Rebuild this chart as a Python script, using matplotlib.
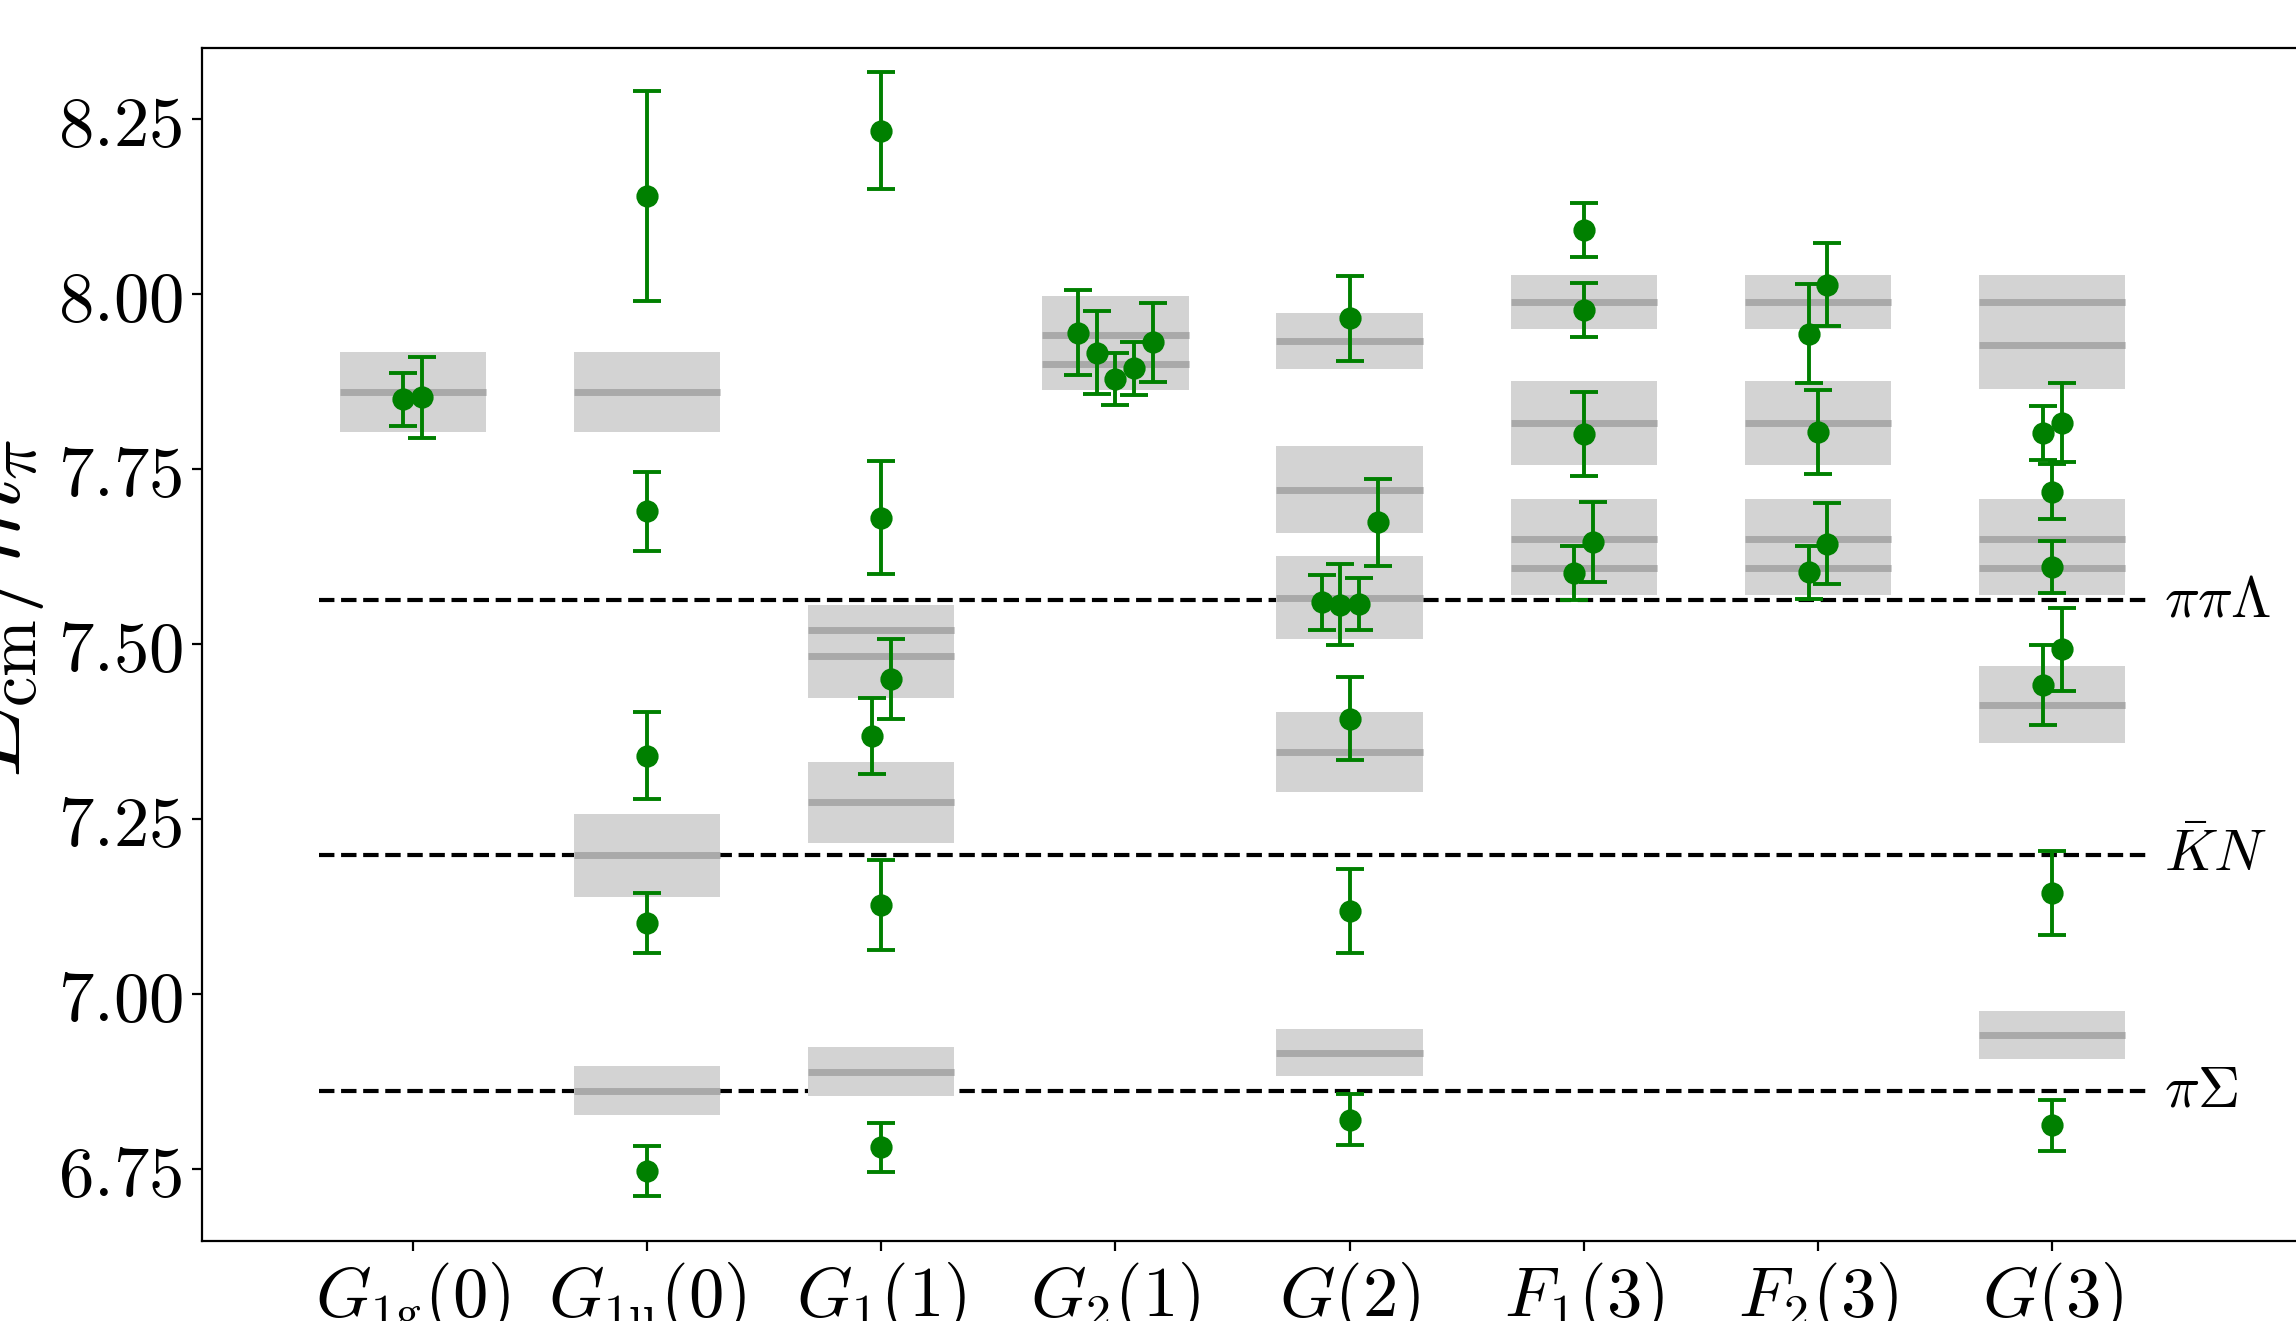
import numpy as np
import matplotlib
matplotlib.use("Agg")
import matplotlib.pyplot as plt
from matplotlib.ticker import FixedLocator, FuncFormatter

plt.rcParams["mathtext.fontset"] = "cm"
plt.rcParams["font.family"] = "serif"
plt.rcParams["font.serif"] = ["DejaVu Serif"]

# irreps along the x axis
irrep_labels = [r"$G_{1\mathrm{g}}(0)$", r"$G_{1\mathrm{u}}(0)$", r"$G_1(1)$", r"$G_2(1)$",
                r"$G(2)$", r"$F_1(3)$", r"$F_2(3)$", r"$G(3)$"]

# non-interacting levels (grey bands): centre and half-width
band_centres = [
    [7.860],
    [7.860, 7.198, 6.8615],
    [7.519, 7.483, 7.2735, 6.889],
    [7.941, 7.900],
    [7.932, 7.720, 7.566, 7.346, 6.916],
    [7.988, 7.815, 7.650, 7.608],
    [7.988, 7.815, 7.650, 7.608],
    [7.988, 7.927, 7.650, 7.608, 7.413, 6.941],
]
band_errs = [
    [0.057],
    [0.057, 0.059, 0.035],
    [0.037, 0.061, 0.0575, 0.035],
    [0.056, 0.038],
    [0.040, 0.062, 0.059, 0.057, 0.034],
    [0.039, 0.060, 0.057, 0.038],
    [0.039, 0.060, 0.057, 0.038],
    [0.039, 0.0625, 0.057, 0.038, 0.055, 0.034],
]

# lattice energies, grouped in clusters that are spread sideways
energy_vals = [
    [[7.849, 7.852]],
    [[8.139], [7.689], [7.340], [7.101], [6.747]],
    [[8.233], [7.680], [7.368, 7.450], [7.127], [6.781]],
    [[7.9445, 7.916, 7.878, 7.8935, 7.9305]],
    [[7.965], [7.559, 7.556, 7.557, 7.6735], [7.393], [7.119], [6.8205]],
    [[8.091], [7.977], [7.800], [7.601, 7.645]],
    [[7.943, 8.013], [7.802], [7.602, 7.643]],
    [[7.801, 7.816], [7.7175], [7.610], [7.441, 7.492], [7.1445], [6.812]],
]
energy_errs = [
    [[0.038, 0.058]],
    [[0.150], [0.057], [0.062], [0.043], [0.036]],
    [[0.084], [0.081], [0.054, 0.057], [0.064], [0.035]],
    [[0.061, 0.059, 0.037, 0.0375, 0.056]],
    [[0.061], [0.039, 0.058, 0.037, 0.062], [0.059], [0.060], [0.036]],
    [[0.039], [0.039], [0.060], [0.038, 0.057]],
    [[0.071, 0.059], [0.060], [0.038, 0.058]],
    [[0.038, 0.057], [0.0386], [0.037], [0.057, 0.059], [0.060], [0.036]],
]

# two-particle thresholds
thresh_vals = [7.5619, 7.198, 6.8615]
thresh_labels = [r"$\pi\pi\Lambda$", r"$\bar{K}N$", r"$\pi\Sigma$"]


def main():
    fig = plt.figure(figsize=(11.48, 6.605), dpi=200)
    ax = fig.add_axes([202 / 2296, 1 - 1241 / 1321, 2225 / 2296, 1193 / 1321])

    half = 0.3125
    step = 0.08

    for i in range(len(irrep_labels)):
        for c, e in zip(band_centres[i], band_errs[i]):
            ax.fill_between([i - half, i + half], c - e, c + e,
                            color="lightgray", lw=0, zorder=3)
            ax.hlines(c, i - half, i + half, color="darkgray", lw=2.5, zorder=3.1)

        xs, ys, es = [], [], []
        for vals, errs in zip(energy_vals[i], energy_errs[i]):
            k = len(vals)
            for j in range(k):
                xs.append(i + (j - (k - 1) / 2) * step)
                ys.append(vals[j])
                es.append(errs[j])
        ax.errorbar(xs, ys, yerr=es, fmt="o", color="green", ms=7,
                    capsize=5, elinewidth=1.4, capthick=1.4, zorder=4)

    for v, lab in zip(thresh_vals, thresh_labels):
        ax.hlines(v, -0.4, 7.4, color="black", ls="--", lw=1.5, zorder=2)
        ax.text(7.475, v, lab, fontsize=21, va="center", ha="left")

    ax.set_xlim(-0.9, 8.6)
    ax.set_ylim(6.647, 8.351)

    ax.xaxis.set_major_locator(FixedLocator(range(len(irrep_labels))))
    ax.set_xticklabels(irrep_labels)
    ax.yaxis.set_major_locator(FixedLocator([6.75, 7.0, 7.25, 7.5, 7.75, 8.0, 8.25]))
    ax.yaxis.set_major_formatter(FuncFormatter(lambda v, p: f"${v:.2f}$"))
    ax.tick_params(labelsize=25.5)

    ax.set_ylabel(r"$E_{\mathrm{cm}}/m_\pi$", fontsize=35)
    ax.yaxis.label.set_y(0.53)

    fig.savefig("out.png", dpi=200)


if __name__ == "__main__":
    main()
